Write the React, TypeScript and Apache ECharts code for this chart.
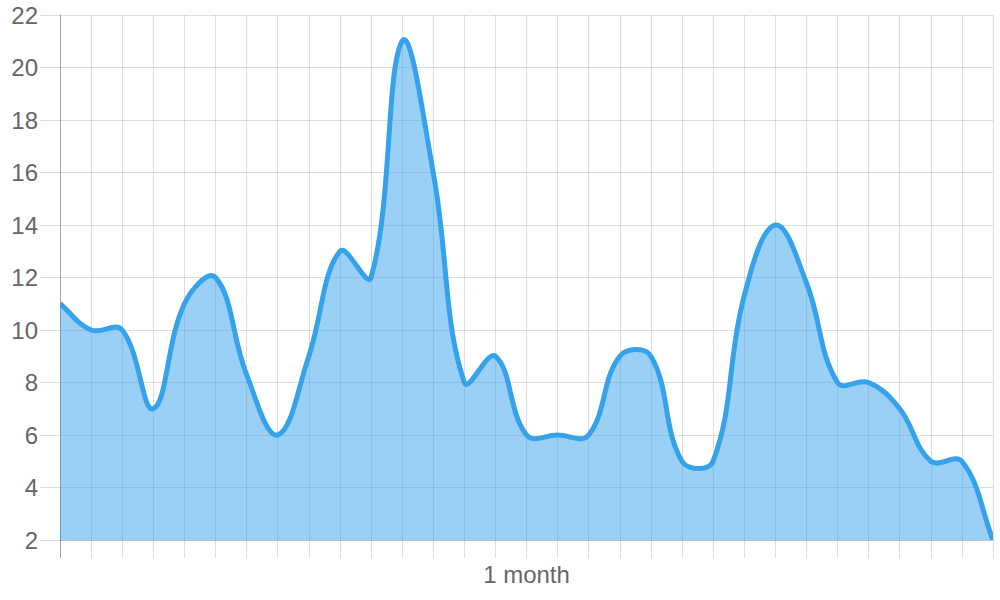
import React, { useEffect, useRef } from "react";
import * as echarts from "echarts";

const xTickLabels = [
  "", "", "", "", "", "", "", "", "", "", "",
  "", "", "", "", "1 month", "", "", "", "", "",
  "", "", "", "", "", "", "", "", "", "",
];

const seriesValues = [
  11, 10, 10, 7, 11, 12, 8.3, 6, 9, 13, 12,
  21, 16, 8, 9, 6, 6, 6, 9, 9, 5,
  5, 11.3, 14, 11.8, 8, 8, 7, 5, 5, 2,
];

const yMin = 2;
const yMax = 22;
const yStep = 2;

const TENSION = 0.4;

function renderArea(params: any, api: any) {
  if (params.dataIndex !== 0) return null;
  const n = seriesValues.length;
  const pts: number[][] = [];
  for (let i = 0; i < n; i++) {
    pts.push(api.coord([i, api.value(1, i)]));
  }
  const cs = params.coordSys;
  const left = cs.x;
  const right = cs.x + cs.width;
  const top = cs.y;
  const bottom = cs.y + cs.height;
  const clampX = (v: number) => Math.max(left, Math.min(right, v));
  const clampY = (v: number) => Math.max(top, Math.min(bottom, v));
  const cps: { px: number; py: number; nx: number; ny: number }[] = [];
  for (let i = 0; i < n; i++) {
    const p = pts[i];
    const prev = pts[Math.max(0, i - 1)];
    const next = pts[Math.min(n - 1, i + 1)];
    const d01 = Math.hypot(p[0] - prev[0], p[1] - prev[1]);
    const d12 = Math.hypot(next[0] - p[0], next[1] - p[1]);
    let s01 = d01 / (d01 + d12);
    let s12 = d12 / (d01 + d12);
    if (!isFinite(s01)) s01 = 0;
    if (!isFinite(s12)) s12 = 0;
    const fa = TENSION * s01;
    const fb = TENSION * s12;
    cps.push({
      px: clampX(p[0] - fa * (next[0] - prev[0])),
      py: clampY(p[1] - fa * (next[1] - prev[1])),
      nx: clampX(p[0] + fb * (next[0] - prev[0])),
      ny: clampY(p[1] + fb * (next[1] - prev[1])),
    });
  }
  let curve = `M${pts[0][0]},${pts[0][1]}`;
  for (let i = 1; i < n; i++) {
    curve += ` C${cps[i - 1].nx},${cps[i - 1].ny} ${cps[i].px},${cps[i].py} ${pts[i][0]},${pts[i][1]}`;
  }
  const base = api.coord([0, yMin])[1];
  const area = `${curve} L${pts[n - 1][0]},${base} L${pts[0][0]},${base} Z`;
  return {
    type: "group",
    children: [
      {
        type: "path",
        shape: { pathData: area },
        style: { fill: "rgba(54,162,235,0.5)", stroke: "none" },
      },
      {
        type: "path",
        shape: { pathData: curve },
        style: {
          fill: "none",
          stroke: "rgb(54,162,235)",
          lineWidth: 5,
          lineJoin: "round",
          lineCap: "butt",
        },
      },
    ],
  };
}

export default function App() {
  const ref = useRef<HTMLDivElement>(null);
  useEffect(() => {
    if (!ref.current) return;
    const chart = echarts.init(ref.current, null, { renderer: "svg" });
    const gridColor = "rgba(0,0,0,0.13)";
    const textStyle = {
      color: "#666",
      fontFamily: "Liberation Sans, Arial, sans-serif",
      fontSize: 24,
    };
    chart.setOption({
      animation: false,
      grid: { left: 60, right: 7, top: 15, bottom: 60, containLabel: false },
      xAxis: {
        type: "category",
        boundaryGap: false,
        data: xTickLabels,
        axisLine: { show: true, lineStyle: { color: gridColor, width: 1 } },
        axisTick: {
          show: true,
          length: 18,
          interval: 0,
          lineStyle: { color: gridColor, width: 1 },
        },
        splitLine: {
          show: true,
          interval: 0,
          lineStyle: { color: gridColor, width: 1 },
        },
        axisLabel: {
          ...textStyle,
          interval: 0,
          margin: 22,
        },
      },
      yAxis: {
        type: "value",
        min: yMin,
        max: yMax,
        interval: yStep,
        axisLine: { show: true, lineStyle: { color: "rgba(0,0,0,0.25)", width: 1 } },
        axisTick: { show: true, length: 20, lineStyle: { color: gridColor, width: 1 } },
        splitLine: { show: true, lineStyle: { color: gridColor, width: 1 } },
        axisLabel: { ...textStyle, margin: 22 },
      },
      graphic: [
        {
          type: "line",
          shape: { x1: 60.5, y1: 540, x2: 60.5, y2: 558 },
          style: { stroke: "rgba(0,0,0,0.25)", lineWidth: 1 },
          z: 10,
        },
      ],
      series: [
        {
          type: "custom",
          data: seriesValues.map((v, i) => [i, v]),
          encode: { x: 0, y: 1 },
          clip: true,
          renderItem: renderArea,
        },
      ],
    });
    return () => chart.dispose();
  }, []);
  return (
    <div
      ref={ref}
      style={{ position: "absolute", left: 0, top: 0, width: 1000, height: 600 }}
    />
  );
}
